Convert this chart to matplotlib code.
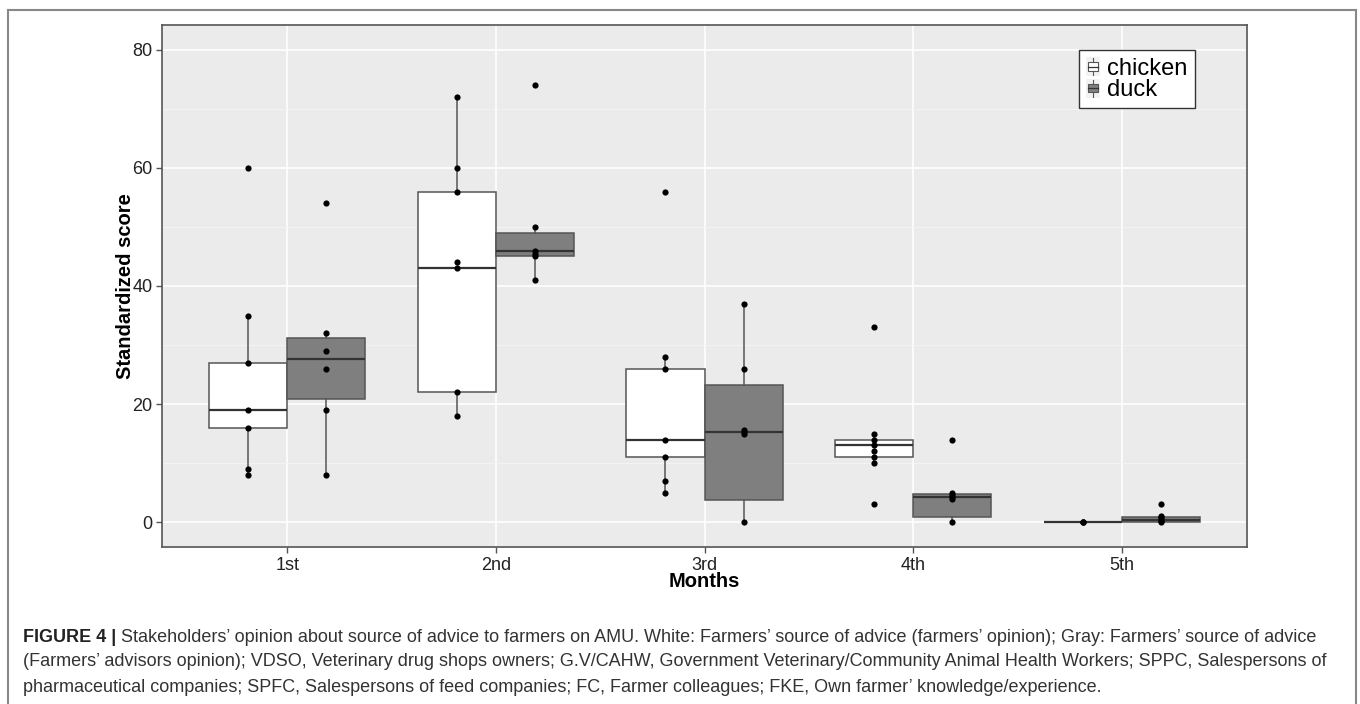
import matplotlib
matplotlib.use('Agg')
import matplotlib.pyplot as plt
import numpy as np
from matplotlib.patches import Patch, Rectangle
from matplotlib.lines import Line2D
from matplotlib.legend_handler import HandlerBase

plt.rcParams['font.family'] = ['Liberation Sans', 'DejaVu Sans']

months = ['1st', '2nd', '3rd', '4th', '5th']

# points
chickenPts = [[60, 35, 27, 19, 16, 9, 8],
              [72, 60, 56, 44, 43, 22, 18],
              [56, 28, 26, 14, 11, 7, 5],
              [33, 15, 14, 13, 12, 11, 10, 3],
              [0, 0, 0]]
duckPts = [[54, 32, 29, 26, 19, 8],
           [74, 50, 46, 45.5, 45, 41],
           [37, 26, 15.6, 15.3, 14.9, 0],
           [14, 5, 4.6, 4.3, 4, 0],
           [3, 1, 0.8, 0.5, 0.2, 0]]

# box stats as drawn
chickenLo = [8, 18, 5, 10, 0]
chickenQ1 = [16, 22, 11, 11, 0]
chickenMed = [19, 43, 14, 13, 0]
chickenQ3 = [27, 56, 26, 14, 0]
chickenHi = [35, 72, 28, 15, 0]

duckLo = [8, 41, 0, 0, 0]
duckQ1 = [20.8, 45.1, 3.8, 0.9, 0]
duckMed = [27.6, 45.9, 15.3, 4.3, 0.45]
duckQ3 = [31.2, 49, 23.2, 4.8, 0.84]
duckHi = [32, 50, 37, 5, 1]

chickenCol = 'white'
duckCol = '#7f7f7f'
edgeCol = '#555555'
W = 1360
H = 704

fig = plt.figure(figsize=(W/100, H/100), dpi=100)
ax = fig.add_axes([162/W, 1-547/H, (1247-162)/W, (547-25)/H])
ax.set_facecolor('#ebebeb')

def makeStats(lo, q1, med, q3, hi):
    return [{'whislo': lo[i], 'q1': q1[i], 'med': med[i], 'q3': q3[i],
             'whishi': hi[i], 'fliers': []} for i in range(len(lo))]

xs = np.arange(1, len(months)+1)
off = 0.1875
bw = 0.375
for stats, pos, fc in [(makeStats(chickenLo, chickenQ1, chickenMed, chickenQ3, chickenHi), xs-off, chickenCol),
                       (makeStats(duckLo, duckQ1, duckMed, duckQ3, duckHi), xs+off, duckCol)]:
    ax.bxp(stats, positions=pos, widths=bw, patch_artist=True, showcaps=False,
           boxprops=dict(facecolor=fc, edgecolor=edgeCol, linewidth=1.1),
           medianprops=dict(color='#333333', linewidth=1.6),
           whiskerprops=dict(color=edgeCol, linewidth=1.1),
           manage_ticks=False, zorder=2)

for i in range(len(months)):
    ax.scatter([xs[i]-off]*len(chickenPts[i]), chickenPts[i], s=20, color='black', zorder=4, linewidths=0)
    ax.scatter([xs[i]+off]*len(duckPts[i]), duckPts[i], s=20, color='black', zorder=4, linewidths=0)

ax.set_xlim(0.4, 5.6)
ax.set_ylim(-4.2, 84.2)
ax.set_xticks(xs)
ax.set_xticklabels(months)
ax.set_yticks([0, 20, 40, 60, 80])
ax.set_yticks([10, 30, 50, 70], minor=True)
ax.grid(which='major', color='white', linewidth=1.2, zorder=0)
ax.grid(which='minor', axis='y', color='#f5f5f5', linewidth=0.6, zorder=0)
ax.set_axisbelow(True)
ax.tick_params(axis='both', which='major', labelsize=13, colors='#555555', labelcolor='#222222',
               length=4, width=1, pad=3)
ax.tick_params(axis='y', which='minor', length=0)
for s in ax.spines.values():
    s.set_color('#555555')
    s.set_linewidth(1.2)

ax.set_ylabel('Standardized score', fontsize=14.5, fontweight='bold', labelpad=-2)
ax.set_xlabel('Months', fontsize=14.5, fontweight='bold', labelpad=-1)


class BoxHandler(HandlerBase):
    def create_artists(self, legend, orig_handle, xdescent, ydescent, width, height, fontsize, trans):
        x0 = -xdescent
        y0 = -ydescent
        bg = Rectangle((x0, y0), width, height, facecolor='#f2f2f2', edgecolor='none', transform=trans)
        bx = Rectangle((x0+0.15*width, y0+0.28*height), 0.7*width, 0.44*height,
                       facecolor=orig_handle.get_facecolor(), edgecolor=edgeCol, linewidth=0.8, transform=trans)
        wl = Line2D([x0+width/2]*2, [y0+0.05*height, y0+0.28*height], color=edgeCol, linewidth=0.8, transform=trans)
        wh = Line2D([x0+width/2]*2, [y0+0.72*height, y0+0.95*height], color=edgeCol, linewidth=0.8, transform=trans)
        md = Line2D([x0+0.15*width, x0+0.85*width], [y0+height/2]*2, color='#333333', linewidth=0.9, transform=trans)
        return [bg, bx, wl, wh, md]


handles = [Patch(facecolor=chickenCol), Patch(facecolor=duckCol)]
leg = ax.legend(handles, ['chicken', 'duck'], loc='upper left', bbox_to_anchor=(0.845, 0.952),
                fontsize=17, handler_map={Patch: BoxHandler()}, frameon=True, fancybox=False,
                edgecolor='#333333', framealpha=1, handlelength=0.6, handleheight=0.85,
                handletextpad=0.3, labelspacing=-0.04, borderpad=0.3, borderaxespad=0)
leg.get_frame().set_linewidth(1.0)

# outer frame
fig.add_artist(Line2D([8/W, 8/W], [0, 1-10/H], color='#888888', linewidth=1.5))
fig.add_artist(Line2D([1356/W, 1356/W], [0, 1-10/H], color='#888888', linewidth=1.5))
fig.add_artist(Line2D([8/W, 1356/W], [1-10/H, 1-10/H], color='#888888', linewidth=1.5))

# caption
capLines = ["Stakeholders' opinion about source of advice to farmers on AMU. White: Farmers' source of advice (farmers' opinion); Gray: Farmers' source of advice",
            "(Farmers' advisors opinion); VDSO, Veterinary drug shops owners; G.V/CAHW, Government Veterinary/Community Animal Health Workers; SPPC, Salespersons of",
            "pharmaceutical companies; SPFC, Salespersons of feed companies; FC, Farmer colleagues; FKE, Own farmer' knowledge/experience."]
capLines = [c.replace("'", '\u2019') for c in capLines]
capSize = 13.0
t0 = fig.text(23/W, 1-637/H, 'FIGURE 4 | ', fontsize=capSize, fontweight='bold', color='#222222', va='center')
ax.annotate(capLines[0], xy=(1, 0.5), xycoords=t0, va='center', ha='left', fontsize=capSize,
            color='#333333', annotation_clip=False)
fig.text(23/W, 1-662/H, capLines[1], fontsize=capSize, color='#333333', va='center')
fig.text(23/W, 1-687/H, capLines[2], fontsize=capSize, color='#333333', va='center')

fig.savefig('out.png', dpi=100)
